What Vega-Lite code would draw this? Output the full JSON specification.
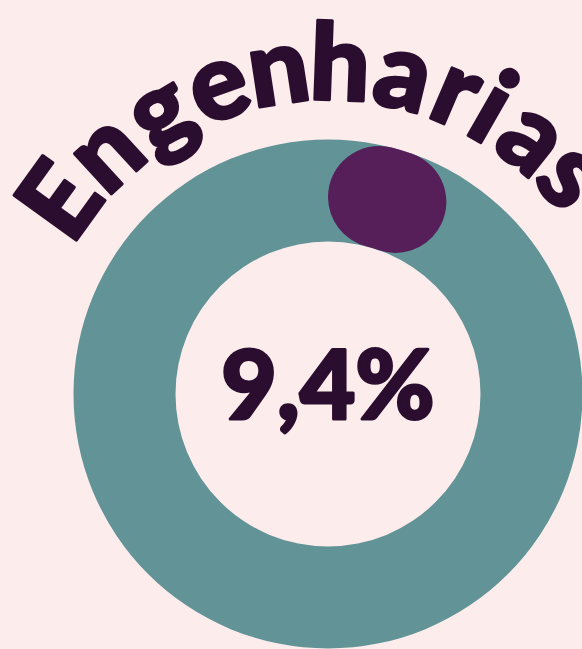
{
  "$schema": "https://vega.github.io/schema/vega-lite/v6.json",
  "autosize": "none",
  "width": 656,
  "height": 788,
  "padding": {"left": 0, "top": 0, "right": -74, "bottom": -139},
  "background": "#fdecec",
  "config": {"view": {"stroke": null}},
  "datasets": {
    "ring": [{"part": "Total", "start": 0, "end": 100}],
    "share": [{"area": "Engenharias", "start": 0, "end": 9.4, "label": "9,4%"}],
    "title": [
      {"letter": "E", "deg": -54.2},
      {"letter": "n", "deg": -42.6},
      {"letter": "g", "deg": -30.8},
      {"letter": "e", "deg": -19.6},
      {"letter": "n", "deg": -8.7},
      {"letter": "h", "deg": 2.1},
      {"letter": "a", "deg": 13.3},
      {"letter": "r", "deg": 23.1},
      {"letter": "i", "deg": 29.9},
      {"letter": "a", "deg": 38.6},
      {"letter": "s", "deg": 48.2}
    ]
  },
  "layer": [
    {
      "data": {"name": "ring"},
      "mark": {"type": "arc", "innerRadius": 152.5, "outerRadius": 254.5, "color": "#629396"},
      "encoding": {
        "theta": {"field": "start", "type": "quantitative", "scale": {"domain": [0, 100]}},
        "theta2": {"field": "end"}
      }
    },
    {
      "data": {"name": "share"},
      "mark": {"type": "arc", "innerRadius": 152.5, "outerRadius": 254.5, "cornerRadius": 51, "color": "#561f5a"},
      "encoding": {
        "theta": {"field": "start", "type": "quantitative", "scale": {"domain": [0, 100]}},
        "theta2": {"field": "end"}
      }
    },
    {
      "data": {"name": "share"},
      "mark": {"type": "text", "font": "Lato", "fontWeight": 900, "fontSize": 96, "color": "#2b0d2f", "stroke": "#2b0d2f", "strokeWidth": 3, "strokeJoin": "round", "baseline": "alphabetic", "align": "center", "dy": 25},
      "encoding": {"text": {"field": "label", "type": "nominal"}}
    },
    {
      "data": {"name": "title"},
      "mark": {"type": "text", "font": "Lato", "fontWeight": 900, "fontSize": 106, "color": "#2b0d2f", "stroke": "#2b0d2f", "strokeWidth": 3, "strokeJoin": "round", "baseline": "alphabetic", "align": "center", "radius": 294},
      "encoding": {
        "theta": {"field": "deg", "type": "quantitative", "scale": {"domain": [-180, 180], "range": [-3.14159265, 3.14159265]}},
        "angle": {"field": "deg", "type": "quantitative", "scale": {"domain": [-180, 180], "range": [-180, 180]}},
        "text": {"field": "letter", "type": "nominal"}
      }
    }
  ],
  "resolve": {"scale": {"theta": "independent"}}
}
